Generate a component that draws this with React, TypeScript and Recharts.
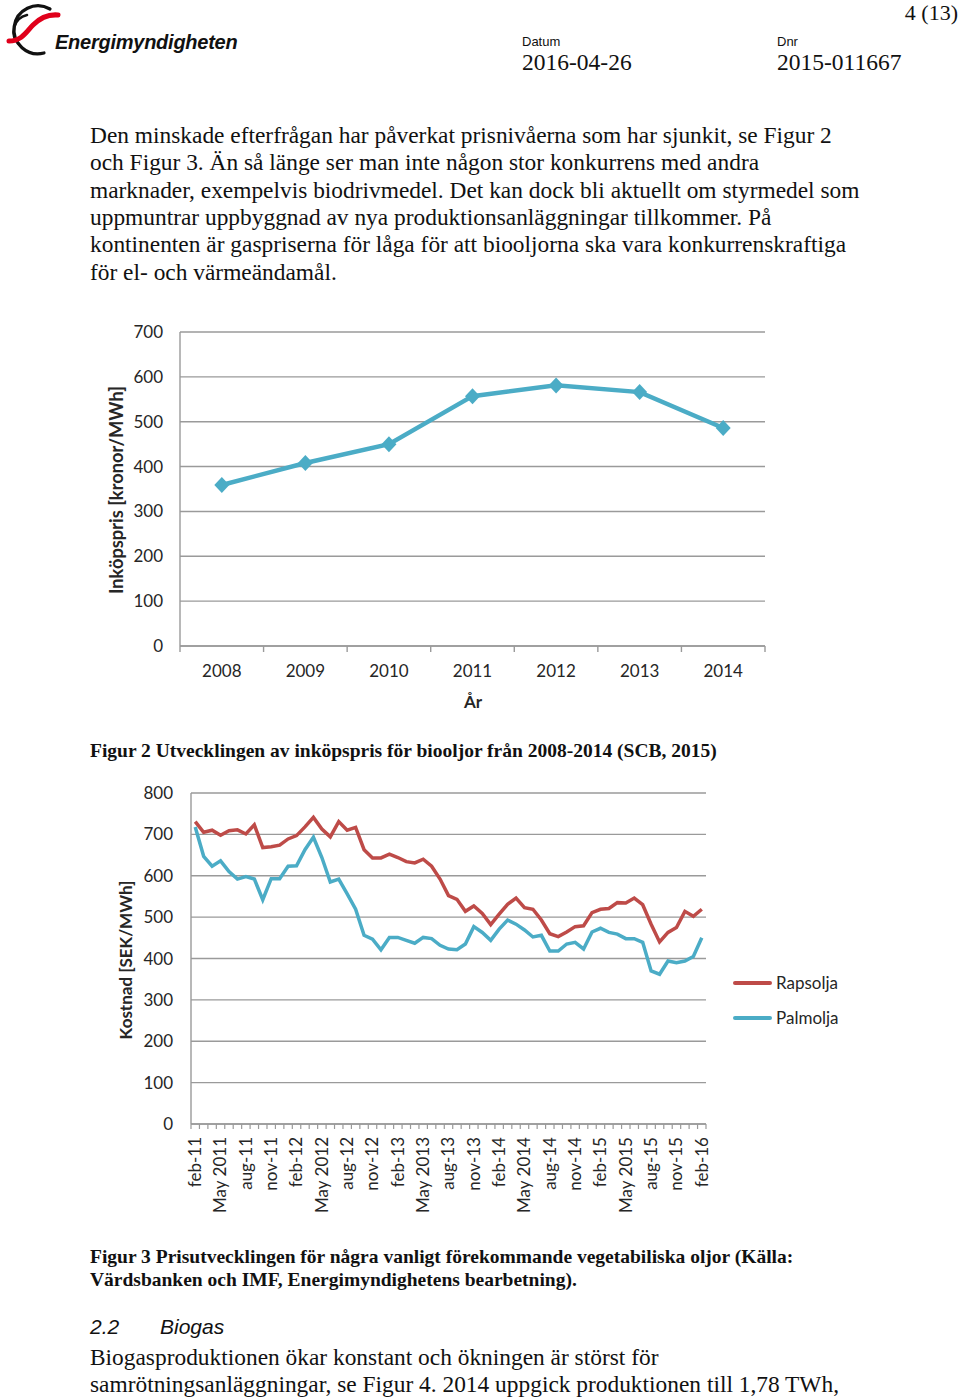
import React from "react";
import { LineChart, Line, XAxis, YAxis, CartesianGrid } from "recharts";

// Figur 2: inköpspris för biooljor
const YEARS = ["2008", "2009", "2010", "2011", "2012", "2013", "2014"];
const INKOPSPRIS = [359, 408, 450, 557, 581, 566, 486];
const PRICE_TICKS = [0, 100, 200, 300, 400, 500, 600, 700];

// Figur 3: månadspriser feb-11 .. feb-16
const MONTHS = [
  "feb-11", "mar-11", "apr-11", "May 2011", "jun-11", "jul-11", "aug-11", "sep-11", "okt-11", "nov-11", "dec-11", "jan-12",
  "feb-12", "mar-12", "apr-12", "May 2012", "jun-12", "jul-12", "aug-12", "sep-12", "okt-12", "nov-12", "dec-12", "jan-13",
  "feb-13", "mar-13", "apr-13", "May 2013", "jun-13", "jul-13", "aug-13", "sep-13", "okt-13", "nov-13", "dec-13", "jan-14",
  "feb-14", "mar-14", "apr-14", "May 2014", "jun-14", "jul-14", "aug-14", "sep-14", "okt-14", "nov-14", "dec-14", "jan-15",
  "feb-15", "mar-15", "apr-15", "May 2015", "jun-15", "jul-15", "aug-15", "sep-15", "okt-15", "nov-15", "dec-15", "jan-16",
  "feb-16",
];
const RAPSOLJA = [
  731, 705, 710, 698, 709, 711, 701, 723, 668, 670,
  674, 689, 697, 718, 741, 713, 694, 731, 710, 717,
  663, 643, 643, 652, 644, 634, 631, 640, 623, 592,
  552, 543, 514, 527, 509, 482, 507, 531, 546, 523,
  519, 493, 460, 453, 464, 477, 479, 511, 519, 521,
  535, 534, 546, 530, 483, 440, 463, 475, 514, 502,
  519,
];
const PALMOLJA = [
  718, 647, 623, 636, 610, 592, 598, 592, 542, 593,
  593, 623, 624, 663, 693, 644, 585, 592, 556, 519,
  456, 447, 421, 451, 451, 444, 437, 451, 448, 432,
  423, 421, 435, 477, 463, 444, 471, 493, 483, 469,
  452, 456, 418, 418, 435, 439, 423, 464, 473, 463,
  459, 448, 448, 439, 370, 362, 394, 390, 394, 405,
  450,
];
const COST_TICKS = [0, 100, 200, 300, 400, 500, 600, 700, 800];

const SERIES = [
  { key: "rapsolja", name: "Rapsolja", color: "#BE4B48" },
  { key: "palmolja", name: "Palmolja", color: "#4BACC6" },
];

const BLUE = "#4BACC6";
const GRID = "#9a9a9a";
const LABEL = "#262626";
const CHART_FONT = "Lato, 'Open Sans', sans-serif";
const SERIF = "'Liberation Serif', 'Times New Roman', serif";
const SANS = "'Liberation Sans', Arial, sans-serif";

const PARAGRAPH = [
  "Den minskade efterfrågan har påverkat prisnivåerna som har sjunkit, se Figur 2",
  "och Figur 3. Än så länge ser man inte någon stor konkurrens med andra",
  "marknader, exempelvis biodrivmedel. Det kan dock bli aktuellt om styrmedel som",
  "uppmuntrar uppbyggnad av nya produktionsanläggningar tillkommer. På",
  "kontinenten är gaspriserna för låga för att biooljorna ska vara konkurrenskraftiga",
  "för el- och värmeändamål.",
];
const BIOGAS_TEXT = [
  "Biogasproduktionen ökar konstant och ökningen är störst för",
  "samrötningsanläggningar, se Figur 4. 2014 uppgick produktionen till 1,78 TWh,",
];

const priceData = YEARS.map((year, i) => ({ year, value: INKOPSPRIS[i] }));
const costData = MONTHS.map((month, i) => ({
  month,
  rapsolja: RAPSOLJA[i],
  palmolja: PALMOLJA[i],
}));

// chart boxes
const C1 = { left: 100, top: 320, width: 700, height: 400, yW: 80, xH: 74 };
const C1_MARGIN = { top: 12, right: 35, left: 0, bottom: 0 };
const HALF1 = (C1.width - C1_MARGIN.right - C1.yW) / YEARS.length / 2;

const C2 = { left: 100, top: 783, width: 760, height: 441, yW: 91, xH: 100 };
const C2_MARGIN = { top: 10, right: 154, left: 0, bottom: 0 };
const HALF2 = (C2.width - C2_MARGIN.right - C2.yW) / MONTHS.length / 2;

const BODY_SIZE = 23.4;
const CAPTION_SIZE = 19.5;

function YearTick(props: any) {
  const { x, y, payload, index } = props;
  return (
    <g>
      <line x1={x - HALF1} y1={y} x2={x - HALF1} y2={y + 6} stroke={GRID} strokeWidth={1.4} />
      {index === YEARS.length - 1 && (
        <line x1={x + HALF1} y1={y} x2={x + HALF1} y2={y + 6} stroke={GRID} strokeWidth={1.4} />
      )}
      <text x={x} y={y + 31} textAnchor="middle" fontSize={17} fontFamily={CHART_FONT} fill={LABEL}>
        {payload.value}
      </text>
    </g>
  );
}

function MonthTick(props: any) {
  const { x, y, payload, index } = props;
  const ty = y + 13;
  return (
    <g>
      <line x1={x - HALF2} y1={y} x2={x - HALF2} y2={y + 5} stroke={GRID} strokeWidth={1.2} />
      {index === MONTHS.length - 1 && (
        <line x1={x + HALF2} y1={y} x2={x + HALF2} y2={y + 5} stroke={GRID} strokeWidth={1.2} />
      )}
      {index % 3 === 0 && (
        <text
          x={x}
          y={ty}
          dy="0.35em"
          textAnchor="end"
          transform={`rotate(-90 ${x} ${ty})`}
          fontSize={17}
          fontFamily={CHART_FONT}
          fill={LABEL}
        >
          {payload.value}
        </text>
      )}
    </g>
  );
}

function Diamond(props: any) {
  const { cx, cy } = props;
  if (cx == null || cy == null) return null;
  return <path d={`M${cx},${cy - 8}L${cx + 7.5},${cy}L${cx},${cy + 8}L${cx - 7.5},${cy}Z`} fill={BLUE} />;
}

function PageText() {
  return (
    <svg width={960} height={1399} style={{ position: "absolute", left: 0, top: 0 }}>
      {/* logo */}
      <g fill="none" strokeLinecap="round">
        <path d="M 50 9 A 24 24 0 1 0 44 53" stroke="#111" strokeWidth={3.2} />
        <path d="M 27 15 A 17 17 0 0 0 19 44" stroke="#111" strokeWidth={2.6} />
        <path d="M 9 41 C 22 41, 27 31, 33 25 C 40 18, 47 14, 58 15" stroke="#E0001B" strokeWidth={5} />
      </g>
      <text x={55} y={49} fontFamily={SANS} fontSize={20} fontWeight="bold" fontStyle="italic" letterSpacing={-0.25} fill="#111">
        Energimyndigheten
      </text>
      <text x={958} y={20} textAnchor="end" fontFamily={SERIF} fontSize={22} fill="#111">4 (13)</text>
      <text x={522} y={46} fontFamily={SANS} fontSize={13} fill="#111">Datum</text>
      <text x={522} y={70} fontFamily={SERIF} fontSize={23.5} fill="#111">2016-04-26</text>
      <text x={777} y={46} fontFamily={SANS} fontSize={13} fill="#111">Dnr</text>
      <text x={777} y={70} fontFamily={SERIF} fontSize={23.5} fill="#111">2015-011667</text>

      {PARAGRAPH.map((line, i) => (
        <text key={i} x={90} y={143 + i * 27.3} fontFamily={SERIF} fontSize={BODY_SIZE} fill="#111">
          {line}
        </text>
      ))}

      {/* figure 2 labels */}
      <text
        x={117}
        y={490}
        transform="rotate(-90 117 490)"
        textAnchor="middle"
        dy="0.35em"
        fontFamily={CHART_FONT}
        fontWeight="bold"
        fontSize={18.3}
        fill={LABEL}
      >
        Inköpspris [kronor/MWh]
      </text>
      <text x={473} y={708} textAnchor="middle" fontFamily={CHART_FONT} fontWeight="bold" fontSize={17} fill={LABEL}>
        År
      </text>
      <text x={90} y={757} fontFamily={SERIF} fontWeight="bold" fontSize={CAPTION_SIZE} fill="#111">
        Figur 2 Utvecklingen av inköpspris för biooljor från 2008-2014 (SCB, 2015)
      </text>

      {/* figure 3 labels */}
      <text
        x={126}
        y={960}
        transform="rotate(-90 126 960)"
        textAnchor="middle"
        dy="0.35em"
        fontFamily={CHART_FONT}
        fontWeight="bold"
        fontSize={17}
        fill={LABEL}
      >
        Kostnad [SEK/MWh]
      </text>
      {SERIES.map((s, i) => (
        <g key={s.key}>
          <line x1={735} y1={983 + i * 35} x2={770} y2={983 + i * 35} stroke={s.color} strokeWidth={4} strokeLinecap="round" />
          <text x={776} y={983 + i * 35} dy="0.35em" fontFamily={CHART_FONT} fontSize={17} fill={LABEL}>
            {s.name}
          </text>
        </g>
      ))}
      <text x={90} y={1263} fontFamily={SERIF} fontWeight="bold" fontSize={CAPTION_SIZE} fill="#111">
        Figur 3 Prisutvecklingen för några vanligt förekommande vegetabiliska oljor (Källa:
      </text>
      <text x={90} y={1286} fontFamily={SERIF} fontWeight="bold" fontSize={CAPTION_SIZE} fill="#111">
        Värdsbanken och IMF, Energimyndighetens bearbetning).
      </text>

      <text x={90} y={1334} fontFamily={SANS} fontStyle="italic" fontSize={21} fill="#111">2.2</text>
      <text x={160} y={1334} fontFamily={SANS} fontStyle="italic" fontSize={21} fill="#111">Biogas</text>
      {BIOGAS_TEXT.map((line, i) => (
        <text key={i} x={90} y={1365 + i * 27.3} fontFamily={SERIF} fontSize={BODY_SIZE} fill="#111">
          {line}
        </text>
      ))}
    </svg>
  );
}

export default function App() {
  return (
    <div
      style={{
        position: "absolute",
        left: 0,
        top: 0,
        width: 960,
        height: 1399,
        background: "#fff",
        overflow: "hidden",
      }}
    >
      <PageText />

      <div style={{ position: "absolute", left: C1.left, top: C1.top }}>
        <LineChart width={C1.width} height={C1.height} data={priceData} margin={C1_MARGIN}>
          <CartesianGrid vertical={false} stroke={GRID} strokeWidth={1.4} />
          <XAxis
            dataKey="year"
            scale="band"
            interval={0}
            height={C1.xH}
            axisLine={{ stroke: GRID, strokeWidth: 1.4 }}
            tickLine={false}
            tickSize={0}
            tickMargin={0}
            tick={(p: any) => <YearTick {...p} />}
          />
          <YAxis
            width={C1.yW}
            domain={[0, 700]}
            ticks={PRICE_TICKS}
            interval={0}
            axisLine={{ stroke: GRID, strokeWidth: 1.4 }}
            tickLine={false}
            tickSize={0}
            tickMargin={17}
            tick={{ fontSize: 17, fill: LABEL, fontFamily: CHART_FONT }}
          />
          <Line
            dataKey="value"
            stroke={BLUE}
            strokeWidth={4.5}
            dot={(p: any) => <Diamond key={p.index} {...p} />}
            activeDot={false}
            isAnimationActive={false}
          />
        </LineChart>
      </div>

      <div style={{ position: "absolute", left: C2.left, top: C2.top }}>
        <LineChart width={C2.width} height={C2.height} data={costData} margin={C2_MARGIN}>
          <CartesianGrid vertical={false} stroke={GRID} strokeWidth={1.4} />
          <XAxis
            dataKey="month"
            scale="band"
            interval={0}
            height={C2.xH}
            axisLine={{ stroke: GRID, strokeWidth: 1.4 }}
            tickLine={false}
            tickSize={0}
            tickMargin={0}
            tick={(p: any) => <MonthTick {...p} />}
          />
          <YAxis
            width={C2.yW}
            domain={[0, 800]}
            ticks={COST_TICKS}
            interval={0}
            axisLine={{ stroke: GRID, strokeWidth: 1.4 }}
            tickLine={false}
            tickSize={0}
            tickMargin={18}
            tick={{ fontSize: 17, fill: LABEL, fontFamily: CHART_FONT }}
          />
          {SERIES.map((s) => (
            <Line
              key={s.key}
              dataKey={s.key}
              name={s.name}
              stroke={s.color}
              strokeWidth={3.5}
              dot={false}
              activeDot={false}
              isAnimationActive={false}
            />
          ))}
        </LineChart>
      </div>
    </div>
  );
}
